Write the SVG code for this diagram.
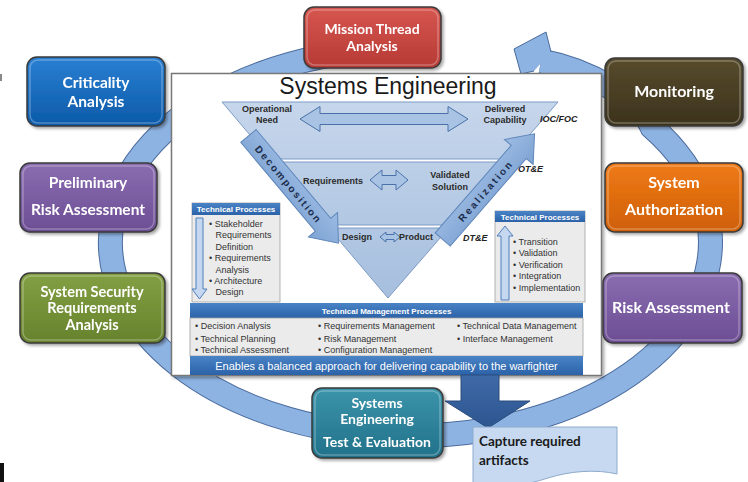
<svg xmlns="http://www.w3.org/2000/svg" width="748" height="482" viewBox="0 0 748 482">
<defs>
<style>
.nt{font-family:Lato,"Open Sans","Liberation Sans",sans-serif;font-weight:700;fill:#fff;text-anchor:middle}
.nb{stroke:#3a3a3a;stroke-width:1.5}
.hl{fill:none;stroke:#fff;stroke-opacity:.28;stroke-width:1.5}
.tb{font-family:"Liberation Sans",Arial,sans-serif;font-weight:700;font-size:9px;fill:#2b2b2b;text-anchor:middle}
.bl{font-family:"Liberation Sans",Arial,sans-serif;font-size:9px;fill:#333}
.hd{font-family:"Liberation Sans",Arial,sans-serif;font-weight:700;font-size:8px;fill:#fff;text-anchor:middle}
.lab{font-family:"Liberation Sans",Arial,sans-serif;font-weight:700;font-style:italic;font-size:9px;fill:#222}
.dbl{fill:#a9c3e4;stroke:#4a72a8;stroke-width:1}
.sarr{fill:#c5d8f0;stroke:#4f7fbd;stroke-width:1}
.bigarr{fill:url(#gArr);stroke:#5f86bb;stroke-width:1}
.at{font-family:"Liberation Sans",Arial,sans-serif;font-weight:700;font-size:10px;fill:#1d2d4d}
.hdr{fill:url(#gHdr)}
.bodyg{fill:#ebebeb;stroke:#a0a0a0;stroke-width:.8}
.tri{fill:url(#gTri);stroke:#7d9bc6;stroke-width:1}
.cap{font-family:Lato,"Open Sans","Liberation Sans",sans-serif;font-weight:700;font-size:13.5px;fill:#1a1a1a}
</style>
<filter id="sh" x="-10%" y="-10%" width="130%" height="130%"><feDropShadow dx="2" dy="2" stdDeviation="1.5" flood-color="#000" flood-opacity="0.35"/></filter>
<linearGradient id="gRed" x1="0" y1="0" x2="0" y2="1"><stop offset="0" stop-color="#d65650"/><stop offset="1" stop-color="#b73a35"/></linearGradient>
<linearGradient id="gBlue" x1="0" y1="0" x2="0" y2="1"><stop offset="0" stop-color="#2a7fd2"/><stop offset="1" stop-color="#0c5aa9"/></linearGradient>
<linearGradient id="gPurp" x1="0" y1="0" x2="0" y2="1"><stop offset="0" stop-color="#8a6cb1"/><stop offset="1" stop-color="#6c4e94"/></linearGradient>
<linearGradient id="gGreen" x1="0" y1="0" x2="0" y2="1"><stop offset="0" stop-color="#84a044"/><stop offset="1" stop-color="#66822c"/></linearGradient>
<linearGradient id="gOlive" x1="0" y1="0" x2="0" y2="1"><stop offset="0" stop-color="#574b2d"/><stop offset="1" stop-color="#3c331c"/></linearGradient>
<linearGradient id="gOrange" x1="0" y1="0" x2="0" y2="1"><stop offset="0" stop-color="#ef7a17"/><stop offset="1" stop-color="#cf5f06"/></linearGradient>
<linearGradient id="gTeal" x1="0" y1="0" x2="0" y2="1"><stop offset="0" stop-color="#3b94aa"/><stop offset="1" stop-color="#21718a"/></linearGradient>
<linearGradient id="gTri" gradientUnits="userSpaceOnUse" x1="0" y1="102" x2="0" y2="298"><stop offset="0" stop-color="#c6d6eb"/><stop offset="1" stop-color="#a6bfde"/></linearGradient>
<linearGradient id="gArr" x1="0" y1="0" x2="0" y2="1"><stop offset="0" stop-color="#9bbbe2"/><stop offset="1" stop-color="#7ea3d3"/></linearGradient>
<linearGradient id="gHdr" x1="0" y1="0" x2="0" y2="1"><stop offset="0" stop-color="#4a83c6"/><stop offset="1" stop-color="#2b62a8"/></linearGradient>
<linearGradient id="gDown" x1="0" y1="0" x2="0" y2="1"><stop offset="0" stop-color="#3f6aa8"/><stop offset="1" stop-color="#2d568f"/></linearGradient>
</defs>

<!-- edge marks -->
<rect x="0" y="74" width="2" height="7" fill="#888"/>
<rect x="0" y="463" width="4" height="19" fill="#111"/>

<!-- connectors: the cycle ring with its arrowhead -->
<g id="connectors">
  <path d="M380,49 A300,194 0 1 0 652,127 C640,100 590,70 541,61" fill="none" stroke="#4a6a9c" stroke-width="25"/>
  <path d="M380,49 A300,194 0 1 0 652,127 C640,100 590,70 541,61" fill="none" stroke="#8db3e2" stroke-width="23"/>
  <polygon points="514,49 546,32 551,52 534,71 521,74" fill="#8db3e2"/>
  <polyline points="551,52 546,32 514,49 521,74 534,71" fill="none" stroke="#4a6a9c" stroke-width="1"/>
</g>

<!-- central Systems Engineering panel -->
<g id="se-panel">
  <rect x="171.5" y="73.5" width="430" height="302" fill="#fff" stroke="#777" stroke-width="1.5" filter="url(#sh)"/>
  <text x="388" y="94" font-family="'Liberation Sans',Arial,sans-serif" font-size="23" fill="#1a1a1a" text-anchor="middle">Systems Engineering</text>
  <polygon class="tri" points="222,102 558,102 508.6,159 270.3,159"/>
  <polygon class="tri" points="272.8,162 506,162 451.4,225 326.2,225"/>
  <polygon class="tri" points="328.7,228 448.8,228 388,298"/>
  <path class="dbl" d="M300,119 L320,106.5 L320,113.5 L448,113.5 L448,106.5 L468,119 L448,131.5 L448,124.5 L320,124.5 L320,131.5 Z"/>
  <path class="dbl" d="M370,180 L382,170 L382,175.5 L396,175.5 L396,170 L408,180 L396,190 L396,184.5 L382,184.5 L382,190 Z"/>
  <path class="dbl" d="M380,237 L386,232 L386,234.5 L394,234.5 L394,232 L400,237 L394,242 L394,239.5 L386,239.5 L386,242 Z"/>
  <text class="tb" x="267" y="111.5">Operational</text>
  <text class="tb" x="267" y="123">Need</text>
  <text class="tb" x="505" y="111.5">Delivered</text>
  <text class="tb" x="505" y="123">Capability</text>
  <text class="lab" x="540" y="121.5">IOC/FOC</text>
  <text class="tb" x="333" y="184">Requirements</text>
  <text class="tb" x="450" y="178">Validated</text>
  <text class="tb" x="450" y="190">Solution</text>
  <text class="lab" x="518" y="171.5">OT&amp;E</text>
  <text class="tb" x="357" y="240">Design</text>
  <text class="tb" x="416" y="240">Product</text>
  <text class="lab" x="463" y="241">DT&amp;E</text>
  <g transform="translate(251,139) rotate(50)">
    <path class="bigarr" d="M-4,-10 H112 V-19 L136,0 L112,19 V10 H-4 Z"/>
    <text class="at" x="10" y="4" letter-spacing="2">Decomposition</text>
  </g>
  <g transform="translate(444,238) rotate(-49)">
    <path class="bigarr" d="M-2,-10 H114 V-19 L138,0 L114,19 V10 H-2 Z"/>
    <text class="at" x="24" y="4" letter-spacing="2.3">Realization</text>
  </g>
  <!-- left technical processes -->
  <rect class="bodyg" x="192" y="203" width="88" height="99"/>
  <rect class="hdr" x="192" y="203" width="88" height="12"/>
  <text class="hd" x="236" y="212">Technical Processes</text>
  <path class="sarr" d="M196,218 H203 V289 H207 L199.5,299 L192,289 H196 Z"/>
  <text class="bl" x="209" y="227">• Stakeholder</text>
  <text class="bl" x="215.5" y="238.4">Requirements</text>
  <text class="bl" x="215.5" y="249.8">Definition</text>
  <text class="bl" x="209" y="261.2">• Requirements</text>
  <text class="bl" x="215.5" y="272.6">Analysis</text>
  <text class="bl" x="209" y="284">• Architecture</text>
  <text class="bl" x="215.5" y="295.4">Design</text>
  <!-- right technical processes -->
  <rect class="bodyg" x="495" y="211" width="90" height="91"/>
  <rect class="hdr" x="495" y="211" width="90" height="11"/>
  <text class="hd" x="540" y="219.5">Technical Processes</text>
  <path class="sarr" d="M501,300 V236 H497 L505,226 L513,236 H509 V300 Z"/>
  <text class="bl" x="513" y="244.5">• Transition</text>
  <text class="bl" x="513" y="256">• Validation</text>
  <text class="bl" x="513" y="267.5">• Verification</text>
  <text class="bl" x="513" y="279">• Integration</text>
  <text class="bl" x="513" y="290.5">• Implementation</text>
  <!-- technical management processes -->
  <rect class="hdr" x="190" y="303" width="393" height="15"/>
  <text class="hd" x="386.5" y="314" font-size="9">Technical Management Processes</text>
  <rect class="bodyg" x="190" y="318" width="393" height="38"/>
  <text class="bl" x="195" y="329">• Decision Analysis</text>
  <text class="bl" x="195" y="341.5">• Technical Planning</text>
  <text class="bl" x="195" y="353">• Technical Assessment</text>
  <text class="bl" x="318" y="329">• Requirements Management</text>
  <text class="bl" x="318" y="341.5">• Risk Management</text>
  <text class="bl" x="318" y="353">• Configuration Management</text>
  <text class="bl" x="457" y="329">• Technical Data Management</text>
  <text class="bl" x="457" y="341.5">• Interface Management</text>
  <rect x="190" y="356" width="393" height="19" fill="url(#gHdr)"/>
  <text x="386.5" y="369.5" font-family="'Liberation Sans',Arial,sans-serif" font-size="11" fill="#fff" text-anchor="middle">Enables a balanced approach for delivering capability to the warfighter</text>
</g>

<!-- nodes -->
<g id="mission-thread" filter="url(#sh)">
  <rect class="nb" x="304" y="7" width="137" height="61" rx="10" fill="url(#gRed)"/>
  <rect class="hl" x="307" y="10" width="131" height="55" rx="8"/>
  <text class="nt" x="372" y="34" font-size="14">Mission Thread</text>
  <text class="nt" x="372" y="51" font-size="14">Analysis</text>
</g>
<g id="criticality" filter="url(#sh)">
  <rect class="nb" x="27" y="57" width="138" height="69" rx="10" fill="url(#gBlue)"/>
  <rect class="hl" x="30" y="60" width="132" height="63" rx="8"/>
  <text class="nt" x="96" y="88" font-size="15.5">Criticality</text>
  <text class="nt" x="96" y="107" font-size="15.5">Analysis</text>
</g>
<g id="preliminary" filter="url(#sh)">
  <rect class="nb" x="20" y="163" width="137" height="69" rx="10" fill="url(#gPurp)"/>
  <rect class="hl" x="23" y="166" width="131" height="63" rx="8"/>
  <text class="nt" x="88" y="188" font-size="15.5">Preliminary</text>
  <text class="nt" x="88" y="215" font-size="15.5">Risk Assessment</text>
</g>
<g id="ssra" filter="url(#sh)">
  <rect class="nb" x="20" y="273" width="145" height="70" rx="10" fill="url(#gGreen)"/>
  <rect class="hl" x="23" y="276" width="139" height="64" rx="8"/>
  <text class="nt" x="92" y="297" font-size="14.5">System Security</text>
  <text class="nt" x="92" y="313" font-size="14.5">Requirements</text>
  <text class="nt" x="92" y="330" font-size="14.5">Analysis</text>
</g>
<g id="monitoring" filter="url(#sh)">
  <rect class="nb" x="605" y="58" width="138" height="68" rx="10" fill="url(#gOlive)"/>
  <rect class="hl" x="608" y="61" width="132" height="62" rx="8"/>
  <text class="nt" x="674" y="97" font-size="16">Monitoring</text>
</g>
<g id="authorization" filter="url(#sh)">
  <rect class="nb" x="605" y="163" width="138" height="69" rx="10" fill="url(#gOrange)"/>
  <rect class="hl" x="608" y="166" width="132" height="63" rx="8"/>
  <text class="nt" x="674" y="188" font-size="16">System</text>
  <text class="nt" x="674" y="215" font-size="16">Authorization</text>
</g>
<g id="risk-assessment" filter="url(#sh)">
  <rect class="nb" x="603" y="273" width="139" height="70" rx="10" fill="url(#gPurp)"/>
  <rect class="hl" x="606" y="276" width="133" height="64" rx="8"/>
  <text class="nt" x="671" y="313" font-size="16">Risk Assessment</text>
</g>
<g id="se-te" filter="url(#sh)">
  <rect class="nb" x="312" y="388" width="131" height="70" rx="10" fill="url(#gTeal)"/>
  <rect class="hl" x="315" y="391" width="125" height="64" rx="8"/>
  <text class="nt" x="377" y="408" font-size="14">Systems</text>
  <text class="nt" x="377" y="424" font-size="14">Engineering</text>
  <text class="nt" x="377" y="447" font-size="14">Test &amp; Evaluation</text>
</g>
<g id="down-arrow">
  <path d="M461,375 H499 V401 H530 L488,428 L445,401 H461 Z" fill="url(#gDown)" stroke="#2a4a7a" stroke-width="1"/>
</g>
<g id="capture">
  <path d="M473,427 H617 V474 C596,469 570,471 548,478 C527,485 500,489 473,486 Z" fill="#c6d9f1" stroke="#8eaacc" stroke-width="1"/>
  <text class="cap" x="479" y="446">Capture required</text>
  <text class="cap" x="479" y="465">artifacts</text>
</g>
</svg>
